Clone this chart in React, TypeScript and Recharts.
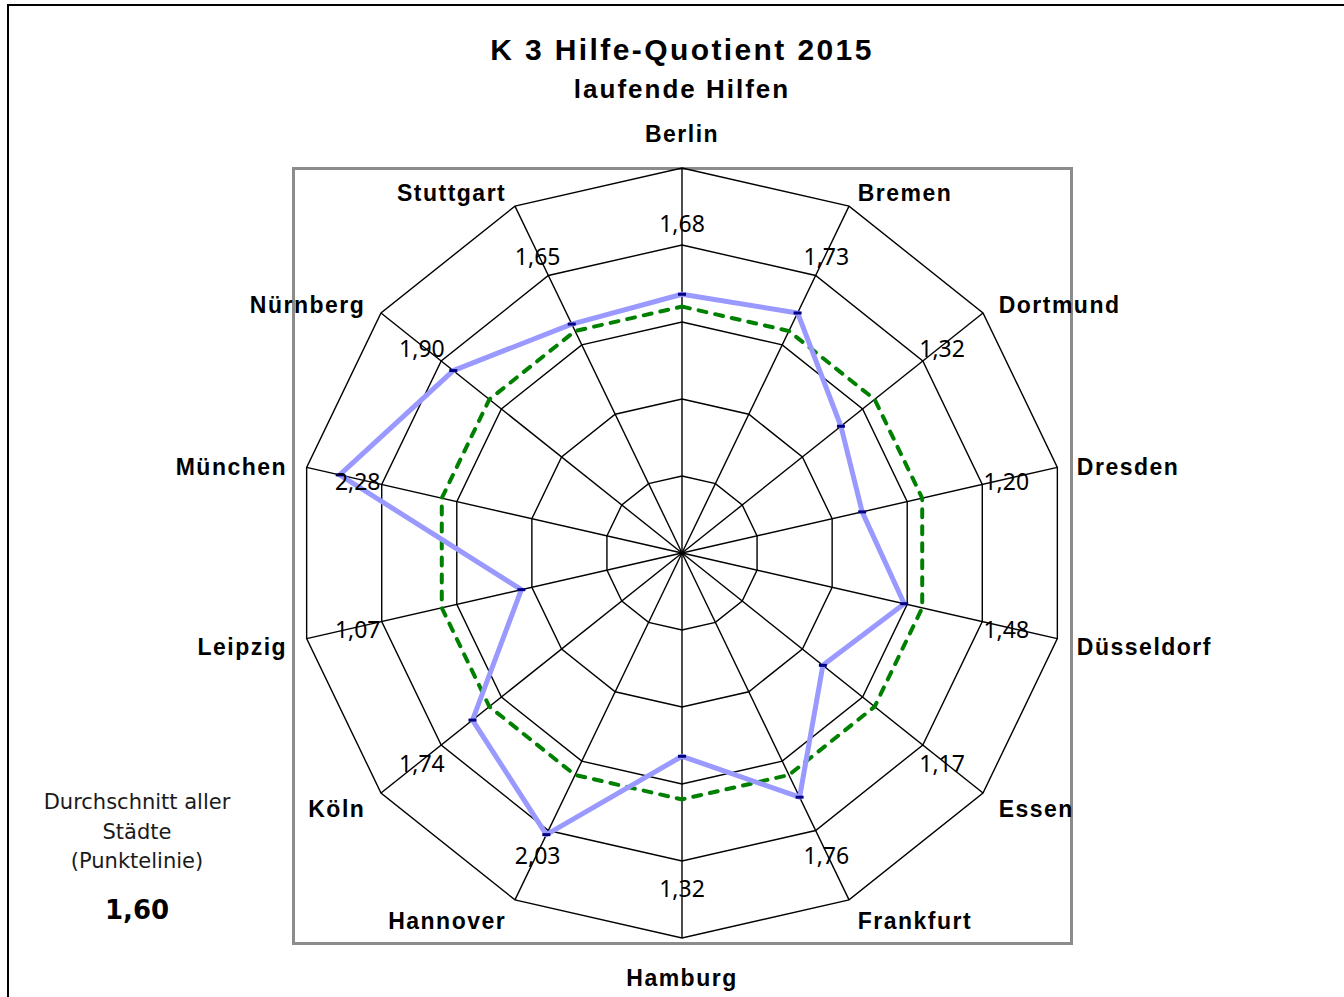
import { RadarChart, Radar, PolarGrid, PolarAngleAxis, PolarRadiusAxis } from "recharts";

// Hilfe-Quotient 2015, laufende Hilfen (clockwise from the top)
const CITIES = [
  "Berlin",
  "Bremen",
  "Dortmund",
  "Dresden",
  "Düsseldorf",
  "Essen",
  "Frankfurt",
  "Hamburg",
  "Hannover",
  "Köln",
  "Leipzig",
  "München",
  "Nürnberg",
  "Stuttgart",
];
const QUOTIENT = [1.68, 1.73, 1.32, 1.2, 1.48, 1.17, 1.76, 1.32, 2.03, 1.74, 1.07, 2.28, 1.9, 1.65];
const AVERAGE = 1.6;
const SCALE_MAX = 2.5;
const LABEL_RING = 2.16; // invisible series that carries the value labels

const CX = 682;
const CY = 553;
const OUTER = 385;

const fmt = (v: number) => v.toFixed(2).replace(".", ",");

const data = CITIES.map((city, i) => ({
  city,
  value: QUOTIENT[i],
  avg: AVERAGE,
  labelAt: LABEL_RING,
}));

const CityTick = (props: any) => {
  const { payload } = props;
  const rad = (payload.coordinate * Math.PI) / 180;
  const s = Math.cos(rad); // sin of angle from top
  const c = Math.sin(rad); // cos of angle from top
  const r = OUTER + 11;
  let x = CX + r * s;
  let y = CY - r * c;
  let anchor: "start" | "end" | "middle" = "middle";
  if (Math.abs(s) < 0.01) {
    y += c > 0 ? -23 : 29;
  } else {
    anchor = s > 0 ? "start" : "end";
    x += 9 * s;
    y += 4 - 8 * c;
  }
  return (
    <text
      x={x}
      y={y}
      dy="0.36em"
      textAnchor={anchor}
      fontFamily="Liberation Sans, Arial, sans-serif"
      fontWeight="bold"
      fontSize={23}
      letterSpacing={1.5}
      fill="#000"
    >
      {payload.value}
    </text>
  );
};

const ValueLabel = (p: any) => (
  <text
    key={`lbl-${p.index}`}
    x={p.cx}
    y={p.cy + 3}
    dy="0.36em"
    textAnchor="middle"
    fontFamily="Noto Sans, sans-serif"
    fontSize={23}
    fill="#000"
  >
    {fmt(QUOTIENT[p.index])}
  </text>
);

const Marker = (p: any) => (
  <rect key={`dot-${p.index}`} x={p.cx - 4} y={p.cy - 1.5} width={8} height={3} fill="#000080" />
);

export default function App() {
  return (
    <div
      style={{
        position: "absolute",
        left: 0,
        top: 0,
        width: 1344,
        height: 997,
        overflow: "hidden",
        background: "#fff",
      }}
    >
      {/* outer frame */}
      <div
        style={{
          position: "absolute",
          left: 7,
          top: 4,
          width: 1450,
          height: 1100,
          border: "2px solid #000",
        }}
      />
      {/* plot area frame */}
      <div
        style={{
          position: "absolute",
          left: 292,
          top: 167,
          width: 781,
          height: 778,
          boxSizing: "border-box",
          border: "3px solid #8c8c8c",
        }}
      />

      <div
        style={{
          position: "absolute",
          left: 0,
          top: 32,
          width: 1364,
          textAlign: "center",
          fontFamily: "Liberation Sans, Arial, sans-serif",
          fontWeight: "bold",
          fontSize: 30,
          lineHeight: "36px",
          letterSpacing: 2.4,
          color: "#000",
        }}
      >
        K 3 Hilfe-Quotient 2015
      </div>
      <div
        style={{
          position: "absolute",
          left: 0,
          top: 74,
          width: 1364,
          textAlign: "center",
          fontFamily: "Liberation Sans, Arial, sans-serif",
          fontWeight: "bold",
          fontSize: 26,
          lineHeight: "30px",
          letterSpacing: 2,
          color: "#000",
        }}
      >
        laufende Hilfen
      </div>

      <div style={{ position: "absolute", left: 0, top: 0 }}>
        <RadarChart
          width={1344}
          height={997}
          data={data}
          cx={CX}
          cy={CY}
          outerRadius={OUTER}
          margin={{ top: 0, right: 0, bottom: 0, left: 0 }}
        >
          <PolarGrid gridType="polygon" stroke="#000" strokeWidth={1.4} />
          <PolarAngleAxis dataKey="city" tick={CityTick} tickLine={false} axisLine={false} />
          <PolarRadiusAxis
            type="number"
            domain={[0, SCALE_MAX]}
            allowDataOverflow
            allowDecimals
            tickCount={6}
            tick={false}
            axisLine={false}
          />
          <Radar
            dataKey="avg"
            stroke="#008000"
            strokeWidth={4}
            strokeDasharray="8 9"
            strokeLinecap="round"
            fill="none"
            dot={false}
            isAnimationActive={false}
          />
          <Radar
            dataKey="value"
            stroke="#9999ff"
            strokeWidth={5}
            strokeLinejoin="round"
            fill="none"
            dot={Marker}
            isAnimationActive={false}
          />
          <Radar
            dataKey="labelAt"
            stroke="none"
            fill="none"
            dot={ValueLabel}
            isAnimationActive={false}
          />
        </RadarChart>
      </div>

      <div
        style={{
          position: "absolute",
          left: 0,
          top: 788,
          width: 274,
          textAlign: "center",
          fontFamily: "DejaVu Sans, sans-serif",
          fontSize: 21,
          lineHeight: "29.5px",
          color: "#1a1a1a",
        }}
      >
        <div>Durchschnitt aller</div>
        <div>Städte</div>
        <div>(Punktelinie)</div>
      </div>
      <div
        style={{
          position: "absolute",
          left: 0,
          top: 894,
          width: 274,
          textAlign: "center",
          fontFamily: "DejaVu Sans, sans-serif",
          fontWeight: "bold",
          fontSize: 26,
          lineHeight: "32px",
          color: "#000",
        }}
      >
        {fmt(AVERAGE)}
      </div>
    </div>
  );
}
